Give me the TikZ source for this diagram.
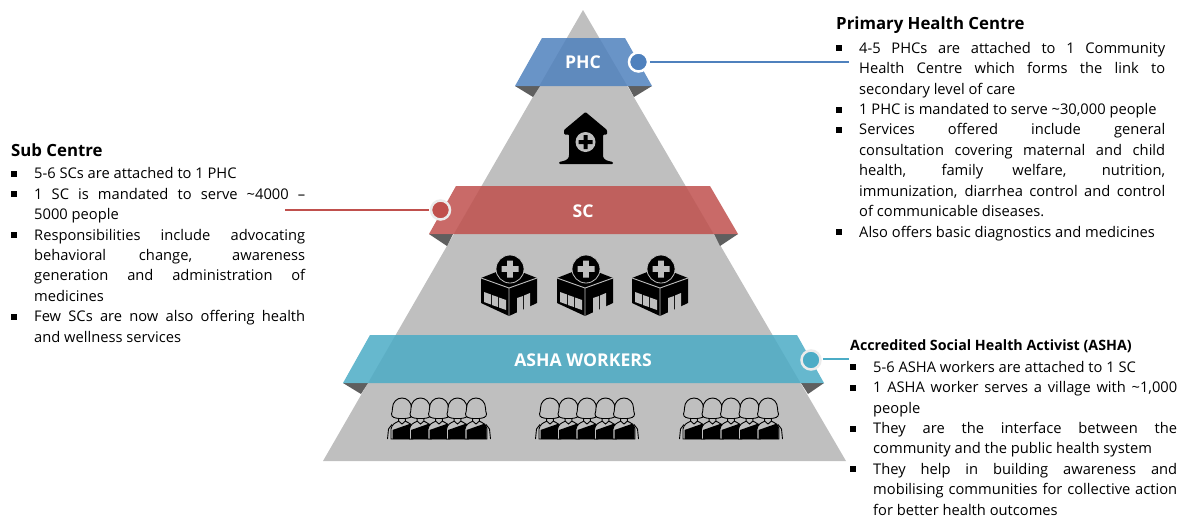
\documentclass[tikz,border=0pt]{standalone}
\usepackage{fontspec}
\setmainfont{Open Sans}
\definecolor{pyr}{HTML}{BFBFBF}
\definecolor{shad}{HTML}{5F5F5F}
\definecolor{bluec}{HTML}{4F81BD}
\definecolor{redc}{HTML}{C0504D}
\definecolor{tealc}{HTML}{4BACC6}
\newcommand{\bul}{\par\hangindent=23pt\hangafter=0\noindent\llap{\raisebox{2pt}{\rule{6pt}{6pt}}\hspace{17pt}}}
\tikzset{
  band/.style={fill opacity=.85,draw=none},
  bandlabel/.style={text=white,font=\fontsize{17.6}{20}\selectfont\bfseries,inner sep=0pt},
  dot/.style={circle,draw=white,line width=2.5pt,inner sep=0pt,minimum size=19pt,fill opacity=1},
  heading/.style={anchor=west,inner sep=0pt,font=\fontsize{16.8}{20}\selectfont\bfseries},
  body/.style={anchor=north west,inner sep=0pt,align=justify,font=\fontsize{14.7}{20.45}\selectfont},
  lead/.style={line width=1.3pt,shorten <=1pt},
  pics/clinic/.style={code={
    \fill[black] (-29,9) -- (-1,-2) -- (27,9) -- (27,34) -- (-1,47) -- (-29,34) -- cycle;
    \draw[pyr,line width=.9pt] (-29,9) -- (-1,19) -- (27,9) (-1,19) -- (-1,47);
    \fill[pyr] (-26,23)--(-19,25.5)--(-19,35.5)--(-26,33)--cycle (-18,26)--(-12,28)--(-12,38)--(-18,36)--cycle (-11,28.5)--(-4,31)--(-4,41)--(-11,38.5)--cycle;
    \fill[pyr] (7,29) -- (13,27) -- (13,42) -- (7,44) -- cycle (14,26.5) -- (20,24) -- (20,39) -- (14,41.5) -- cycle;
    \fill[black,draw=pyr,line width=.8pt] (0,0) circle (14);
    \fill[pyr] (-2.9,-8.5)--(2.9,-8.5)--(2.9,-2.9)--(8.5,-2.9)--(8.5,2.9)--(2.9,2.9)--(2.9,8.5)--(-2.9,8.5)--(-2.9,2.9)--(-8.5,2.9)--(-8.5,-2.9)--(-2.9,-2.9)--cycle;
  }},
  pics/woman/.style={code={
    % shoulders
    \fill[pyr,draw=black,line width=.9pt] (-11,41) -- (-11,31) .. controls (-10,26) and (-7,25) .. (-3,23) -- (3,23) .. controls (7,25) and (10,26) .. (11,31) -- (11,41) -- cycle;
    % garment
    \fill[black] (-9.5,41) -- (-9.5,32) -- (9,25.5) -- (10.5,31) -- (10.5,41) -- cycle;
    % neck
    \draw[black,line width=.9pt,fill=pyr] (-3,18) -- (-3.5,23) -- (0,26) -- (3.5,23) -- (3,18);
    % head
    \draw[black,line width=.9pt,fill=pyr] (-3,20.5) .. controls (-7,20) and (-10.5,19.5) .. (-10.5,16) .. controls (-10,14) and (-9.5,13) .. (-9.5,10) .. controls (-9.5,4) and (-5,0) .. (0,0) .. controls (5,0) and (9.5,4) .. (9.5,10) .. controls (9.5,13) and (10,14) .. (10.5,16) .. controls (10.5,19.5) and (7,20) .. (3,20.5) -- cycle;
  }},
  pics/crowd/.style={code={
    \foreach \k in {0,18.5,37,55.5,74}{\pic at (\k,0) {woman};}
    \draw[black,line width=.9pt] (-14.5,41) -- (-13.5,31) -- (-10,26.5) (88.5,41) -- (87.5,31) -- (84,26.5);
  }}
}
\begin{document}
\begin{tikzpicture}[x=1pt,y=-1pt]
\useasboundingbox (0,0) rectangle (1183,517);
\coordinate (ph1) at (849,62);
\coordinate (sc1) at (285,210);
\coordinate (as1) at (849,359);
% pyramid
\fill[pyr] (583,10) -- (846,461) -- (323,461) -- cycle;
% shadows
\fill[shad] (515,86) -- (540,86) -- (533,97) -- cycle (652,86) -- (628,86) -- (634,97) -- cycle;
\fill[shad] (429,234) -- (453,234) -- (447,246) -- cycle (738,234) -- (714,234) -- (720,246) -- cycle;
\fill[shad] (343,383) -- (368,383) -- (361,394) -- cycle (824,383) -- (801,383) -- (808,394) -- cycle;
% bands
\fill[bluec,band] (542,38) -- (625,38) -- (652,86) -- (515,86) -- cycle;
\fill[redc,band] (456,186) -- (710,186) -- (738,234) -- (429,234) -- cycle;
\fill[tealc,band] (370,335) -- (797,335) -- (824,383) -- (343,383) -- cycle;
\node[bandlabel] (phl) at (583,62) {PHC};
\node[bandlabel] (scl) at (583,211) {SC};
\node[bandlabel] (asl) at (583,360) {ASHA WORKERS};
% dots and leaders
\node[dot,fill=bluec] (phd) at (638.5,62) {};
\node[dot,fill=redc,draw=white!92!black] (scd) at (440.5,210) {};
\node[dot,fill=tealc,draw=white!92!black] (asd) at (811,360) {};
\draw[bluec,lead] (phd) -- (ph1);
\draw[redc,lead] (scd) -- (sc1);
\draw[tealc,lead] (asd.east |- as1) -- (as1);
% house icon
\fill[black,rounded corners=1pt] (585.5,112) -- (607,130) -- (607,134.5) -- (603,134.5) -- (603,156) .. controls (604,160) and (608,161) .. (613,162) -- (613,164) -- (559,164) -- (559,162) .. controls (564,161) and (568,160) .. (569,156) -- (569,134.5) -- (564,134.5) -- (564,130) -- cycle;
\fill[pyr] (585.5,142) circle (10);
\fill[black] (583.5,135) rectangle (587.5,149) (578.5,140) rectangle (592.5,144);
% clinics
\pic at (510,269) {clinic};
\pic at (586,269) {clinic};
\pic at (661,269) {clinic};
% women
\pic at (402,398) {crowd};
\pic at (550,398) {crowd};
\pic at (694,398) {crowd};
% Text
\node[heading] (phh) at (836,25) {Primary Health Centre};
\node[body,text width=329pt] (phb) at (836,32.5) {%
\bul 4-5 PHCs are attached to 1 Community\linebreak Health Centre which forms the link to\linebreak secondary level of care
\bul 1 PHC is mandated to serve \textasciitilde 30,000 people
\bul Services offered include general\linebreak consultation covering maternal and child\linebreak health, family welfare, nutrition,\linebreak immunization, diarrhea control and control\linebreak of communicable diseases.
\bul Also offers basic diagnostics and medicines\par};
\node[heading] (sch) at (11,150.5) {Sub Centre};
\node[body,text width=294pt] (scb) at (11,158) {%
\bul 5-6 SCs are attached to 1 PHC
\bul 1 SC is mandated to serve \textasciitilde 4000 –\linebreak 5000 people
\bul Responsibilities include advocating\linebreak behavioral change, awareness\linebreak generation and administration of\linebreak medicines
\bul Few SCs are now also offering health\linebreak and wellness services\par};
\node[heading,font=\fontsize{14.25}{20}\selectfont\bfseries] (ash) at (850,346) {Accredited Social Health Activist (ASHA)};
\node[body,text width=327pt] (asb) at (850,351.5) {%
\bul 5-6 ASHA workers are attached to 1 SC
\bul 1 ASHA worker serves a village with \textasciitilde 1,000\linebreak people
\bul They are the interface between the\linebreak community and the public health system
\bul They help in building awareness and\linebreak mobilising communities for collective action\linebreak for better health outcomes\par};
\end{tikzpicture}
\end{document}
